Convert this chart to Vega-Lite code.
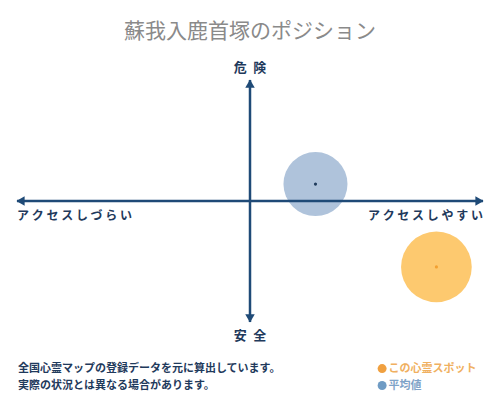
{
  "$schema": "https://vega.github.io/schema/vega-lite/v6.json",
  "autosize": {"type": "none"},
  "width": 466,
  "height": 242,
  "padding": {"left": 17, "top": 80, "right": 17, "bottom": 78},
  "background": "white",
  "config": {"view": {"stroke": null}},
  "title": {
    "text": "蘇我入鹿首塚のポジション",
    "anchor": "middle",
    "frame": "group",
    "offset": 20,
    "fontSize": 21,
    "font": "Noto Sans CJK JP",
    "fontWeight": "normal",
    "color": "#8a8a8a"
  },
  "datasets": {
    "axes": [
      {"x": -1, "x2": 1, "y": 0, "y2": 0},
      {"x": 0, "x2": 0, "y": -1, "y2": 1}
    ],
    "arrows": [
      {"x": 0, "y": 0.97, "shape": "triangle-up"},
      {"x": 0, "y": -0.97, "shape": "triangle-down"},
      {"x": -0.985, "y": 0, "shape": "triangle-left"},
      {"x": 0.985, "y": 0, "shape": "triangle-right"}
    ],
    "spots": [
      {"kind": "平均値", "access": 0.281, "danger": 0.14},
      {"kind": "この心霊スポット", "access": 0.8, "danger": -0.545}
    ],
    "vlabels": [
      {"label": "危\u2002険", "x": 0, "y": 1.1},
      {"label": "安\u2002全", "x": 0, "y": -1.116}
    ],
    "notes": [
      {"label": "全国心霊マップの登録データを元に算出しています。", "x": -0.996, "y": -1.39},
      {"label": "実際の状況とは異なる場合があります。", "x": -0.996, "y": -1.53}
    ],
    "legend": [
      {"kind": "この心霊スポット", "x": 0.567, "tx": 0.594, "y": -1.385},
      {"kind": "平均値", "x": 0.567, "tx": 0.594, "y": -1.525}
    ]
  },
  "resolve": {"scale": {"color": "independent"}},
  "layer": [
    {
      "data": {"name": "spots"},
      "mark": {"type": "point", "filled": true, "opacity": 1, "shape": "circle"},
      "encoding": {
        "x": {"field": "access", "type": "quantitative", "scale": {"domain": [-1, 1]}, "axis": null},
        "y": {"field": "danger", "type": "quantitative", "scale": {"domain": [-1, 1]}, "axis": null},
        "size": {"field": "kind", "type": "nominal", "scale": {"domain": ["この心霊スポット", "平均値"], "range": [5000, 4100]}, "legend": null},
        "color": {"field": "kind", "type": "nominal", "scale": {"domain": ["この心霊スポット", "平均値"], "range": ["#fdc96f", "#afc3db"]}, "legend": null}
      }
    },
    {
      "data": {"name": "spots"},
      "mark": {"type": "point", "filled": true, "opacity": 1, "shape": "circle", "size": 10},
      "encoding": {
        "x": {"field": "access", "type": "quantitative", "scale": {"domain": [-1, 1]}, "axis": null},
        "y": {"field": "danger", "type": "quantitative", "scale": {"domain": [-1, 1]}, "axis": null},
        "color": {"field": "kind", "type": "nominal", "scale": {"domain": ["この心霊スポット", "平均値"], "range": ["#f2a032", "#1f3b5c"]}, "legend": null}
      }
    },
    {
      "data": {"name": "axes"},
      "mark": {"type": "rule", "color": "#1f4a77", "strokeWidth": 2.5},
      "encoding": {
        "x": {"field": "x", "type": "quantitative", "scale": {"domain": [-1, 1]}, "axis": null},
        "x2": {"field": "x2"},
        "y": {"field": "y", "type": "quantitative", "scale": {"domain": [-1, 1]}, "axis": null},
        "y2": {"field": "y2"}
      }
    },
    {
      "data": {"name": "arrows"},
      "mark": {"type": "point", "filled": true, "opacity": 1, "color": "#1f4a77", "size": 90},
      "encoding": {
        "x": {"field": "x", "type": "quantitative", "scale": {"domain": [-1, 1]}, "axis": null},
        "y": {"field": "y", "type": "quantitative", "scale": {"domain": [-1, 1]}, "axis": null},
        "shape": {"field": "shape", "type": "nominal", "scale": null}
      }
    },
    {
      "data": {"name": "vlabels"},
      "mark": {"type": "text", "align": "center", "baseline": "middle", "font": "Noto Sans CJK JP", "fontSize": 13, "fontWeight": "bold", "color": "#1f3a5c"},
      "encoding": {
        "x": {"field": "x", "type": "quantitative", "scale": {"domain": [-1, 1]}, "axis": null},
        "y": {"field": "y", "type": "quantitative", "scale": {"domain": [-1, 1]}, "axis": null},
        "text": {"field": "label"}
      }
    },
    {
      "data": {"values": [{"label": "ア ク セ ス し づ ら い", "x": -1, "y": -0.124}]},
      "mark": {"type": "text", "align": "left", "baseline": "middle", "font": "Noto Sans CJK JP", "fontSize": 12, "fontWeight": "bold", "color": "#1f3a5c"},
      "encoding": {
        "x": {"field": "x", "type": "quantitative", "scale": {"domain": [-1, 1]}, "axis": null},
        "y": {"field": "y", "type": "quantitative", "scale": {"domain": [-1, 1]}, "axis": null},
        "text": {"field": "label"}
      }
    },
    {
      "data": {"values": [{"label": "ア ク セ ス し や す い", "x": 1, "y": -0.124}]},
      "mark": {"type": "text", "align": "right", "baseline": "middle", "font": "Noto Sans CJK JP", "fontSize": 12, "fontWeight": "bold", "color": "#1f3a5c"},
      "encoding": {
        "x": {"field": "x", "type": "quantitative", "scale": {"domain": [-1, 1]}, "axis": null},
        "y": {"field": "y", "type": "quantitative", "scale": {"domain": [-1, 1]}, "axis": null},
        "text": {"field": "label"}
      }
    },
    {
      "data": {"name": "notes"},
      "mark": {"type": "text", "align": "left", "baseline": "middle", "font": "Noto Sans CJK JP", "fontSize": 11, "fontWeight": "bold", "color": "#1f3a5c"},
      "encoding": {
        "x": {"field": "x", "type": "quantitative", "scale": {"domain": [-1, 1]}, "axis": null},
        "y": {"field": "y", "type": "quantitative", "scale": {"domain": [-1, 1]}, "axis": null},
        "text": {"field": "label"}
      }
    },
    {
      "data": {"name": "legend"},
      "mark": {"type": "point", "filled": true, "opacity": 1, "shape": "circle", "size": 80},
      "encoding": {
        "x": {"field": "x", "type": "quantitative", "scale": {"domain": [-1, 1]}, "axis": null},
        "y": {"field": "y", "type": "quantitative", "scale": {"domain": [-1, 1]}, "axis": null},
        "color": {"field": "kind", "type": "nominal", "scale": {"domain": ["この心霊スポット", "平均値"], "range": ["#f0a040", "#6f9bc4"]}, "legend": null}
      }
    },
    {
      "data": {"name": "legend"},
      "mark": {"type": "text", "align": "left", "baseline": "middle", "font": "Noto Sans CJK JP", "fontSize": 11, "fontWeight": "bold"},
      "encoding": {
        "x": {"field": "tx", "type": "quantitative", "scale": {"domain": [-1, 1]}, "axis": null},
        "y": {"field": "y", "type": "quantitative", "scale": {"domain": [-1, 1]}, "axis": null},
        "text": {"field": "kind"},
        "color": {"field": "kind", "type": "nominal", "scale": {"domain": ["この心霊スポット", "平均値"], "range": ["#f0b060", "#7fa3c8"]}, "legend": null}
      }
    }
  ]
}
